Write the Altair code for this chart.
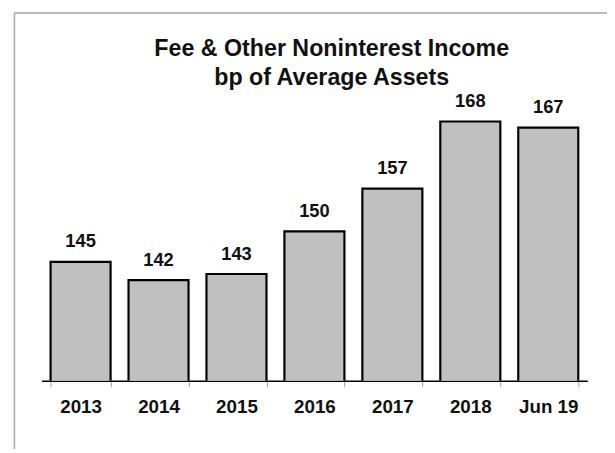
import altair as alt
import pandas as pd

categories = ["2013", "2014", "2015", "2016", "2017", "2018", "Jun 19"]
values = [145, 142, 143, 150, 157, 168, 167]
title_lines = ["Fee & Other Noninterest Income", "bp of Average Assets"]

df = pd.DataFrame({"cat": categories, "val": values})
frame_df = pd.DataFrame({"a": [0]})

FONT = "Liberation Sans"
W, H = 552, 290

x = alt.X("cat:N", sort=categories, title=None,
          scale=alt.Scale(paddingInner=0.23, paddingOuter=0.115),
          axis=alt.Axis(labelAngle=0, labelFont=FONT, labelFontSize=19,
                        labelFontWeight="bold", labelColor="#111",
                        labelBaseline="alphabetic", labelPadding=26,
                        tickBand="extent", tickColor="#a0a0a0", tickSize=6,
                        tickWidth=1, domainColor="#000", domainWidth=1.5,
                        grid=False))
y = alt.Y("val:Q", title=None,
          scale=alt.Scale(domain=[125.5, 172.5], zero=False, nice=False),
          axis=None)

bars = alt.Chart(df).mark_bar(fill="#c0c0c0", stroke="#000", strokeWidth=2.2,
                              clip=True).encode(x=x, y=y)
labels = alt.Chart(df).mark_text(font=FONT, fontSize=18.5, fontWeight="bold",
                                 color="#111", baseline="alphabetic",
                                 dy=-14.5).encode(x=x, y=y, text="val:Q")

frame_top = alt.Chart(frame_df).mark_rule(color="#a6a6a6", strokeWidth=1.5).encode(
    x=alt.value(-27.5), x2=alt.value(600), y=alt.value(-82))
frame_left = alt.Chart(frame_df).mark_rule(color="#a6a6a6", strokeWidth=1.5).encode(
    x=alt.value(-27.5), y=alt.value(-82), y2=alt.value(400))

chart = alt.layer(frame_top, frame_left, bars, labels).properties(
    width=W, height=H,
    title=alt.TitleParams(title_lines, font=FONT, fontSize=23.5,
                          fontWeight="bold", color="#111", anchor="middle",
                          frame="group", dx=17.5, dy=84, offset=6,
                          lineHeight=29),
    autosize=alt.AutoSizeParams(type="none"),
    padding={"left": 34, "top": 84.5, "right": 20, "bottom": 66},
).configure_view(stroke=None)

chart.save("out.html", embed_options={"renderer": "svg", "actions": False})
